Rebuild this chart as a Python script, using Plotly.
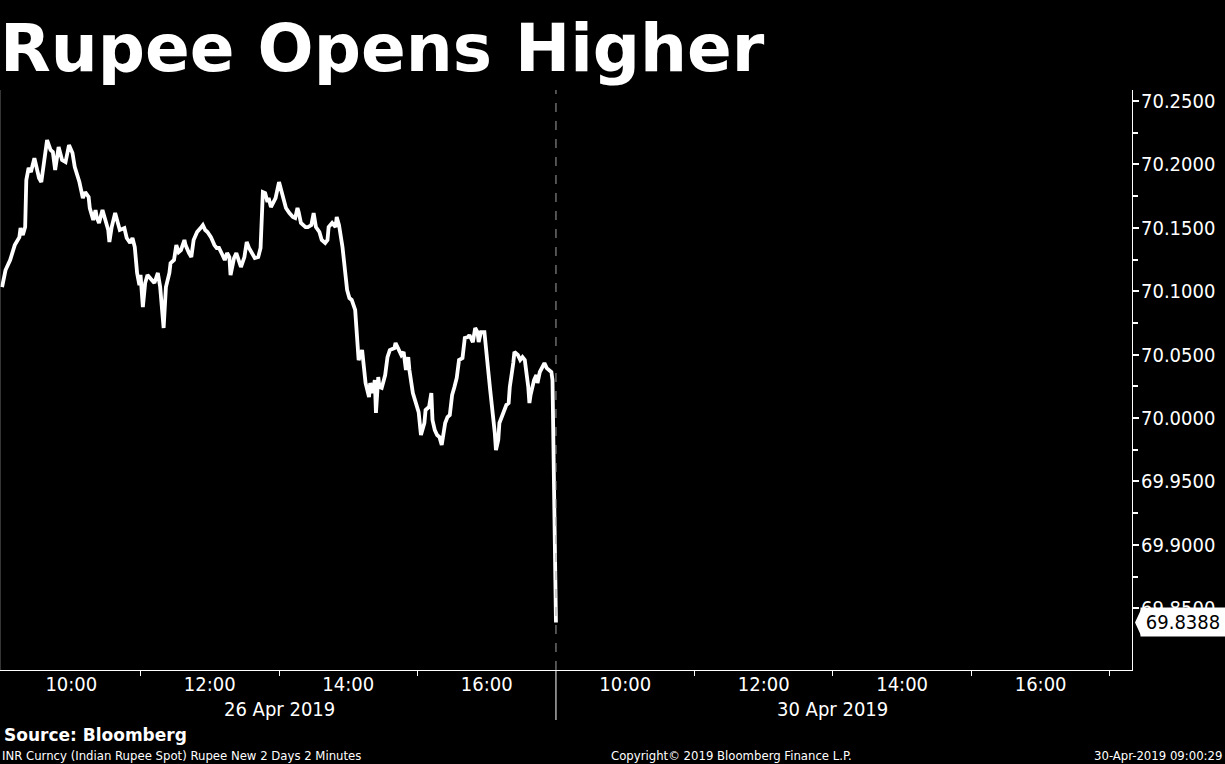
import plotly.graph_objects as go

TITLE = "Rupee Opens Higher"
DAY_LABELS = ["26 Apr 2019", "30 Apr 2019"]
SOURCE = "Source: Bloomberg"
FOOTNOTE = "INR Curncy (Indian Rupee Spot) Rupee New 2 Days 2 Minutes"
COPYRIGHT = "Copyright\u00a9 2019 Bloomberg Finance L.P."
TIMESTAMP = "30-Apr-2019 09:00:29"

SESSION_START = 9      # each day's slot starts at 09:00
SESSION_LEN = 8        # and is 8 hours wide on the axis

# 26 Apr 2019: minutes after 09:00 and INR spot values
day1_minutes = [
    0, 3, 7, 11, 15, 16, 18, 20, 21, 23, 25, 28, 29, 32, 34, 36, 39, 42, 44, 46,
    48, 49, 52, 55, 58, 61, 63, 67, 70, 72, 75, 76, 79, 81, 82, 84, 87, 89, 92, 93,
    95, 98, 100, 102, 106, 108, 111, 113, 115, 117, 119, 120, 122, 124, 126, 128, 132, 135, 137, 140,
    142, 145, 146, 149, 151, 153, 155, 158, 159, 162, 164, 166, 169, 172, 174, 176, 178, 181, 184, 186,
    188, 191, 193, 195, 197, 198, 201, 203, 205, 207, 210, 212, 214, 217, 219, 222, 224, 226, 228, 230,
    231, 233, 236, 237, 240, 242, 244, 246, 249, 252, 254, 256, 257, 259, 263, 265, 268, 270, 272, 275,
    277, 280, 282, 283, 286, 289, 290, 292, 295, 297, 299, 301, 303, 306, 308, 309, 312, 314, 315, 318,
    319, 321, 323, 324, 326, 327, 329, 332, 334, 336, 340, 341, 344, 346, 348, 350, 352, 353, 356, 358,
    361, 363, 366, 367, 370, 372, 373, 375, 377, 379, 381, 384, 386, 388, 390, 392, 394, 396, 399, 401,
    404, 405, 408, 410, 412, 413, 415, 418, 419, 421, 423, 425, 427, 428, 430, 431, 434, 437, 439, 440,
    443, 444, 447, 449, 451, 453, 456, 457, 458, 461, 463, 464, 466, 469, 470, 472, 474, 476, 477,
]
day1_values = [
    70.1033, 70.1167, 70.1246, 70.1364, 70.1427, 70.1498, 70.1443, 70.1506, 70.1877, 70.1972,
    70.1940, 70.2050, 70.2011, 70.1893, 70.1861, 70.2011, 70.2192, 70.2114, 70.2098, 70.1956,
    70.2090, 70.2137, 70.2035, 70.2019, 70.2153, 70.2090, 70.1980, 70.1861, 70.1735, 70.1782,
    70.1743, 70.1656, 70.1562, 70.1640, 70.1585, 70.1538, 70.1640, 70.1585, 70.1483, 70.1388,
    70.1506, 70.1617, 70.1538, 70.1483, 70.1498, 70.1420, 70.1380, 70.1420, 70.1349, 70.1144,
    70.1049, 70.1128, 70.0875, 70.1065, 70.1128, 70.1104, 70.1065, 70.1144, 70.1033, 70.0710,
    70.1033, 70.1144, 70.1222, 70.1246, 70.1364, 70.1309, 70.1325, 70.1404, 70.1364, 70.1301,
    70.1270, 70.1404, 70.1467, 70.1498, 70.1522, 70.1483, 70.1467, 70.1427, 70.1364, 70.1341,
    70.1341, 70.1286, 70.1246, 70.1301, 70.1270, 70.1128, 70.1262, 70.1301, 70.1246, 70.1191,
    70.1270, 70.1388, 70.1341, 70.1286, 70.1262, 70.1270, 70.1341, 70.1782, 70.1774, 70.1703,
    70.1735, 70.1664, 70.1719, 70.1735, 70.1861, 70.1782, 70.1703, 70.1656, 70.1617, 70.1585,
    70.1577, 70.1656, 70.1625, 70.1538, 70.1506, 70.1506, 70.1522, 70.1617, 70.1506, 70.1467,
    70.1404, 70.1380, 70.1404, 70.1506, 70.1538, 70.1506, 70.1585, 70.1522, 70.1349, 70.1144,
    70.1010, 70.0946, 70.0931, 70.0852, 70.0513, 70.0457, 70.0536, 70.0323, 70.0276, 70.0166,
    70.0276, 70.0197, 70.0300, 70.0040, 70.0323, 70.0245, 70.0237, 70.0339, 70.0481, 70.0536,
    70.0552, 70.0592, 70.0536, 70.0497, 70.0521, 70.0379, 70.0481, 70.0379, 70.0197, 70.0126,
    70.0047, 69.9866, 69.9961, 70.0063, 70.0087, 70.0197, 69.9984, 69.9905, 69.9866, 69.9850,
    69.9787, 69.9961, 70.0008, 70.0024, 70.0181, 70.0245, 70.0316, 70.0458, 70.0473, 70.0631,
    70.0639, 70.0655, 70.0599, 70.0710, 70.0678, 70.0599, 70.0678, 70.0678, 70.0560, 70.0402,
    70.0221, 70.0063, 69.9882, 69.9748, 69.9827, 69.9961, 70.0040, 70.0103, 70.0118, 70.0245,
    70.0434, 70.0521, 70.0497, 70.0458, 70.0481, 70.0458, 70.0245, 70.0118, 70.0181, 70.0300,
    70.0339, 70.0276, 70.0363, 70.0418, 70.0434, 70.0394, 70.0379, 70.0363, 70.0300,
]
# 30 Apr 2019: opening print
day2_minutes = [0]
day2_values = [69.8388]

label_hours = [10, 12, 14, 16]
label_texts = ["10:00", "12:00", "14:00", "16:00"]
minor_hours = [11, 13, 15, 17]
y_ticks = [69.85, 69.90, 69.95, 70.00, 70.05, 70.10, 70.15, 70.20, 70.25]
y_minor = [69.875, 69.925, 69.975, 70.025, 70.075, 70.125, 70.175, 70.225]


def pos(day_index, hour):
    return day_index * SESSION_LEN + (hour - SESSION_START)


x1 = [m / 60.0 for m in day1_minutes]
x2 = [SESSION_LEN + m / 60.0 for m in day2_minutes]
xs = x1 + x2
ys = day1_values + day2_values

tickvals, ticktext = [], []
for d in range(2):
    for h, t in zip(label_hours, label_texts):
        tickvals.append(pos(d, h))
        ticktext.append(t)
minor_vals = [pos(d, h) for d in range(2) for h in minor_hours if not (d == 0 and h == 17)]

COND = "DejaVu Sans Condensed, DejaVu Sans"
AXFONT = dict(family=COND, size=20, color="white")
PLOT_TOP, PLOT_BOTTOM = 90, 670
PH = PLOT_BOTTOM - PLOT_TOP


def py(pixel_y):
    return (PLOT_BOTTOM - pixel_y) / PH


fig = go.Figure()
fig.add_trace(go.Scatter(x=xs, y=ys, mode="lines",
                         line=dict(color="white", width=3.8), hoverinfo="skip"))

last_val = ys[-1]

fig.update_layout(
    width=1225, height=764,
    paper_bgcolor="black", plot_bgcolor="black",
    margin=dict(l=0, r=93, t=PLOT_TOP, b=764 - PLOT_BOTTOM, autoexpand=False),
    showlegend=False,
    xaxis=dict(
        range=[-0.03, 16.32], tickmode="array", tickvals=tickvals, ticktext=ticktext,
        ticks="outside", ticklen=4, tickcolor="rgba(0,0,0,0)", ticklabelstandoff=-8,
        showline=True, linecolor="white", linewidth=1,
        showgrid=False, zeroline=False, tickfont=AXFONT, automargin=False,
        minor=dict(tickmode="array", tickvals=minor_vals, ticks="outside",
                   ticklen=5, tickcolor="white", showgrid=False),
    ),
    yaxis=dict(
        side="right", range=[69.8013, 70.2587], tickmode="array", tickvals=y_ticks,
        tickformat=".4f", ticks="outside", ticklen=6, tickwidth=2, tickcolor="white",
        showline=True, linecolor="white", linewidth=1,
        showgrid=False, zeroline=False, tickfont=AXFONT, automargin=False,
        ticklabelstandoff=-2,
        minor=dict(tickmode="array", tickvals=y_minor, ticks="outside",
                   ticklen=5, tickcolor="white", showgrid=False),
    ),
)

shapes = [
    dict(type="line", xref="x", yref="paper", x0=SESSION_LEN, x1=SESSION_LEN, y0=0, y1=1,
         line=dict(color="#a0a0a0", width=1, dash="dash")),
    dict(type="line", xref="x", yref="paper", x0=SESSION_LEN, x1=SESSION_LEN, y0=0, y1=py(720),
         line=dict(color="white", width=1)),
    dict(type="line", xref="paper", yref="paper", x0=0, x1=0, y0=0, y1=1,
         line=dict(color="#6a6a6a", width=1)),
    dict(type="path", xref="paper", yref="y", xsizemode="pixel", ysizemode="pixel",
         xanchor=1, yanchor=last_val, path="M 3,0 L 9,-13 L 9,13 Z",
         fillcolor="white", line=dict(width=0)),
]
fig.update_layout(shapes=shapes)

ann = [
    dict(text="<b>" + TITLE + "</b>", xref="paper", yref="paper", x=0, y=py(49),
         xanchor="left", yanchor="middle", showarrow=False, xshift=-2,
         font=dict(family="DejaVu Sans", size=66, color="white")),
    dict(text=SOURCE, xref="paper", yref="paper", x=2 / 1132, y=py(735),
         xanchor="left", yanchor="middle", showarrow=False,
         font=dict(family="DejaVu Sans", size=17, color="white", weight="bold")),
    dict(text=FOOTNOTE, xref="paper", yref="paper", x=0, y=py(755),
         xanchor="left", yanchor="middle", showarrow=False,
         font=dict(family=COND, size=13, color="white")),
    dict(text=COPYRIGHT, xref="paper", yref="paper", x=731 / 1132, y=py(755),
         xanchor="center", yanchor="middle", showarrow=False,
         font=dict(family=COND, size=13, color="white")),
    dict(text=TIMESTAMP, xref="paper", yref="paper", x=1224 / 1132, y=py(755),
         xanchor="right", yanchor="middle", showarrow=False,
         font=dict(family=COND, size=13, color="white")),
    dict(text=f"{last_val:.4f}", xref="paper", yref="y", x=1, y=last_val,
         xanchor="left", yanchor="middle", xshift=8, showarrow=False,
         bgcolor="white", borderpad=2, width=80, align="center",
         font=dict(family=COND, size=20, color="black")),
]
for d, lab in enumerate(DAY_LABELS):
    ann.append(dict(text=lab, xref="x", yref="paper", x=d * SESSION_LEN + SESSION_LEN / 2,
                    y=py(709), xanchor="center", yanchor="middle", showarrow=False,
                    font=AXFONT))
fig.update_layout(annotations=ann)

fig.write_html(
    "out.html",
    config={"displayModeBar": False},
    post_script="document.body.style.margin='0';document.body.style.background='black';"
                "document.documentElement.style.background='black';",
)
